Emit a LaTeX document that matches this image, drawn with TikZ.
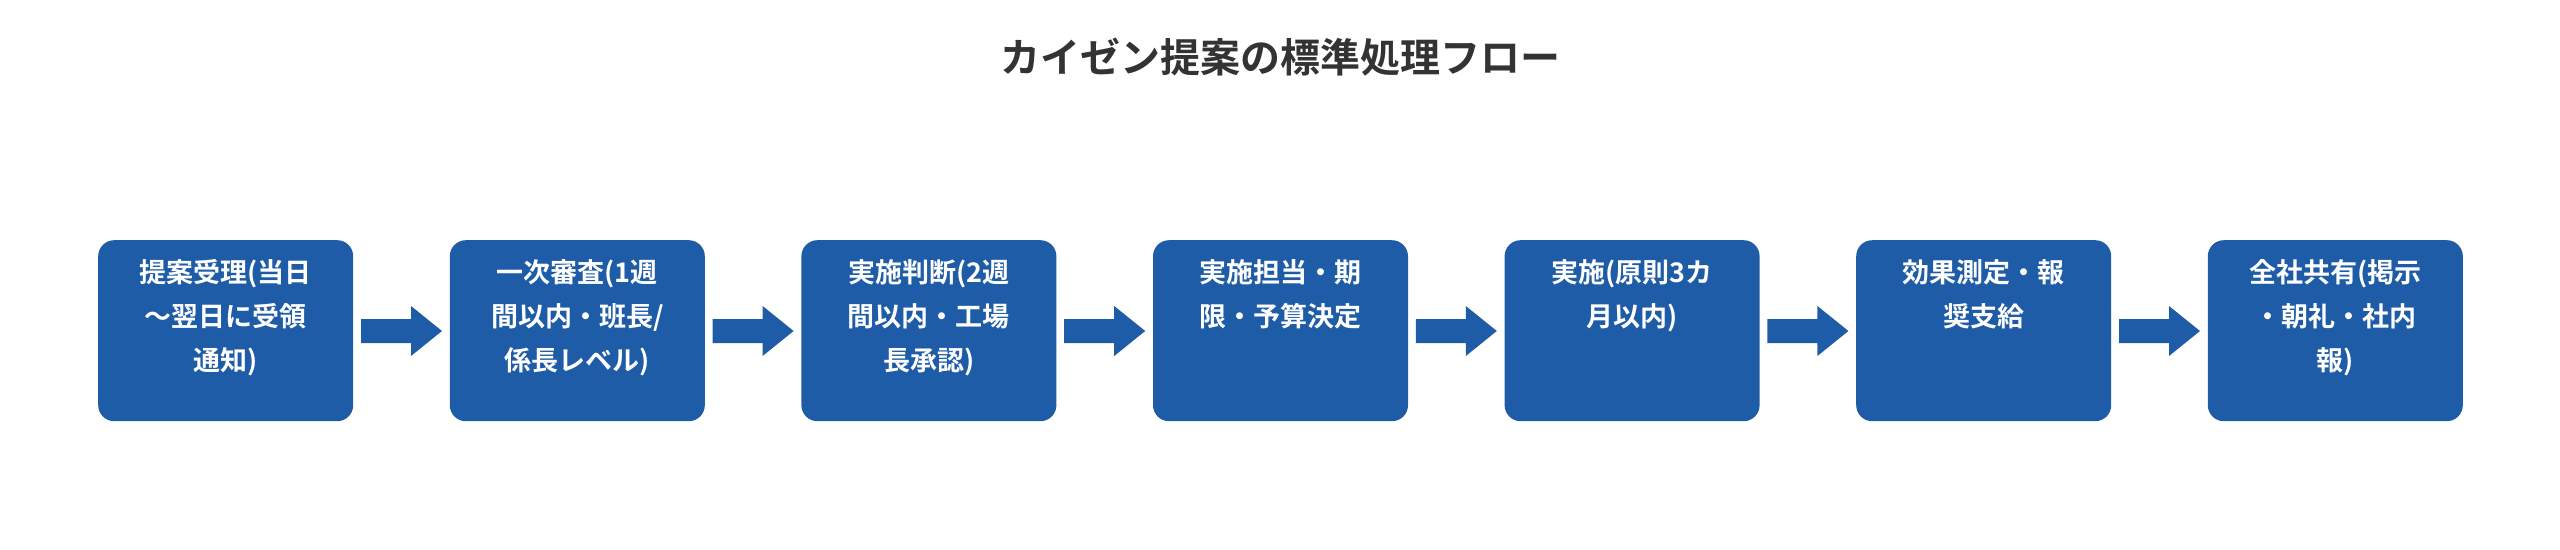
\documentclass[tikz,border=0pt]{standalone}
\usepackage{fontspec}
\usetikzlibrary{calc}
\newfontfamily\cjk{Noto Sans CJK JP}[BoldFont={* Bold}]
\definecolor{boxblue}{HTML}{1F5CA7}
\definecolor{titlegray}{HTML}{333333}
\begin{document}
\begin{tikzpicture}[x=1pt,y=-1pt,
  procbox/.style={fill=boxblue,rounded corners=16pt,minimum width=255pt,minimum height=181pt,anchor=north west,inner sep=0pt},
  lbl/.style={text=white,font=\cjk\bfseries\fontsize{27}{44}\selectfont,align=center,anchor=north},
  arr/.style={fill=boxblue,draw=none}]
\useasboundingbox (0,0) rectangle (2560,549);
\node[font=\cjk\bfseries\fontsize{40}{48}\selectfont,text=titlegray] (title) at (1280,57) {カイゼン提案の標準処理フロー};
\foreach \i/\t in {0/{提案受理(当日\\～翌日に受領\\通知)},1/{一次審査(1週\\間以内・班長/\\係長レベル)},2/{実施判断(2週\\間以内・工場\\長承認)},3/{実施担当・期\\限・予算決定},4/{実施(原則3カ\\月以内)},5/{効果測定・報\\奨支給},6/{全社共有(掲示\\・朝礼・社内\\報)}}{
  \node[procbox] (b\i) at ({98+351.6*\i},240) {};
  \node[lbl] (t\i) at ($(b\i.north)+(0,16)$) {\t};
}
\foreach \i in {0,...,5}{
  \fill[arr] ({361+351.6*\i},319) -- ++(50,0) -- ++(0,-13) -- ++(31,25) -- ++(-31,25) -- ++(0,-13) -- ++(-50,0) -- cycle;
}
\end{tikzpicture}
\end{document}
